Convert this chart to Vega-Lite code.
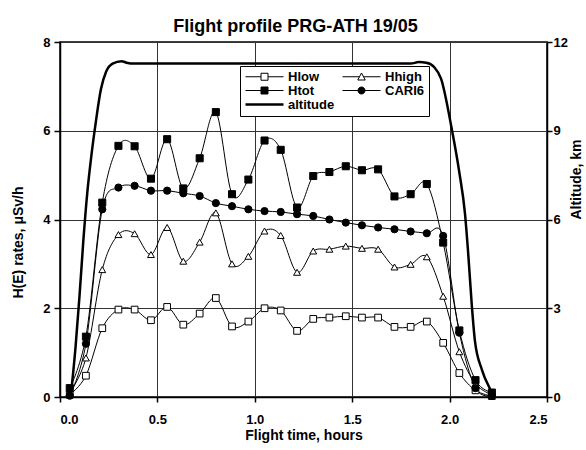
{
  "$schema": "https://vega.github.io/schema/vega-lite/v6.json",
  "width": 586,
  "height": 450,
  "autosize": {"type": "fit", "contains": "padding"},
  "padding": {"left": 11, "top": 18, "right": 2, "bottom": 8},
  "background": "white",
  "title": {
    "text": "Flight profile PRG-ATH 19/05",
    "fontSize": 18,
    "fontWeight": "bold",
    "font": "Liberation Sans",
    "color": "black",
    "offset": 0,
    "dx": -8
  },
  "datasets": {
    "rates": [
      {"series": "Hlow", "t": 0.05, "v": 0.05},
      {"series": "Hlow", "t": 0.133, "v": 0.48},
      {"series": "Hlow", "t": 0.217, "v": 1.55},
      {"series": "Hlow", "t": 0.3, "v": 1.97},
      {"series": "Hlow", "t": 0.383, "v": 1.97},
      {"series": "Hlow", "t": 0.467, "v": 1.73},
      {"series": "Hlow", "t": 0.55, "v": 2.03},
      {"series": "Hlow", "t": 0.633, "v": 1.63},
      {"series": "Hlow", "t": 0.717, "v": 1.88},
      {"series": "Hlow", "t": 0.8, "v": 2.23},
      {"series": "Hlow", "t": 0.883, "v": 1.59},
      {"series": "Hlow", "t": 0.967, "v": 1.7},
      {"series": "Hlow", "t": 1.05, "v": 2.0},
      {"series": "Hlow", "t": 1.133, "v": 1.95},
      {"series": "Hlow", "t": 1.217, "v": 1.49},
      {"series": "Hlow", "t": 1.3, "v": 1.76},
      {"series": "Hlow", "t": 1.383, "v": 1.79},
      {"series": "Hlow", "t": 1.467, "v": 1.82},
      {"series": "Hlow", "t": 1.55, "v": 1.79},
      {"series": "Hlow", "t": 1.633, "v": 1.79},
      {"series": "Hlow", "t": 1.717, "v": 1.58},
      {"series": "Hlow", "t": 1.8, "v": 1.58},
      {"series": "Hlow", "t": 1.883, "v": 1.7},
      {"series": "Hlow", "t": 1.967, "v": 1.22},
      {"series": "Hlow", "t": 2.05, "v": 0.54},
      {"series": "Hlow", "t": 2.133, "v": 0.15},
      {"series": "Hlow", "t": 2.217, "v": 0.02},
      {"series": "Hhigh", "t": 0.05, "v": 0.1},
      {"series": "Hhigh", "t": 0.133, "v": 0.88},
      {"series": "Hhigh", "t": 0.217, "v": 2.87},
      {"series": "Hhigh", "t": 0.3, "v": 3.66},
      {"series": "Hhigh", "t": 0.383, "v": 3.68},
      {"series": "Hhigh", "t": 0.467, "v": 3.21},
      {"series": "Hhigh", "t": 0.55, "v": 3.82},
      {"series": "Hhigh", "t": 0.633, "v": 3.06},
      {"series": "Hhigh", "t": 0.717, "v": 3.49},
      {"series": "Hhigh", "t": 0.8, "v": 4.15},
      {"series": "Hhigh", "t": 0.883, "v": 3.0},
      {"series": "Hhigh", "t": 0.967, "v": 3.17},
      {"series": "Hhigh", "t": 1.05, "v": 3.74},
      {"series": "Hhigh", "t": 1.133, "v": 3.64},
      {"series": "Hhigh", "t": 1.217, "v": 2.81},
      {"series": "Hhigh", "t": 1.3, "v": 3.29},
      {"series": "Hhigh", "t": 1.383, "v": 3.33},
      {"series": "Hhigh", "t": 1.467, "v": 3.4},
      {"series": "Hhigh", "t": 1.55, "v": 3.35},
      {"series": "Hhigh", "t": 1.633, "v": 3.33},
      {"series": "Hhigh", "t": 1.717, "v": 2.93},
      {"series": "Hhigh", "t": 1.8, "v": 2.99},
      {"series": "Hhigh", "t": 1.883, "v": 3.16},
      {"series": "Hhigh", "t": 1.967, "v": 2.27},
      {"series": "Hhigh", "t": 2.05, "v": 1.02},
      {"series": "Hhigh", "t": 2.133, "v": 0.3},
      {"series": "Hhigh", "t": 2.217, "v": 0.05},
      {"series": "Htot", "t": 0.05, "v": 0.2},
      {"series": "Htot", "t": 0.133, "v": 1.36},
      {"series": "Htot", "t": 0.217, "v": 4.38},
      {"series": "Htot", "t": 0.3, "v": 5.66},
      {"series": "Htot", "t": 0.383, "v": 5.65},
      {"series": "Htot", "t": 0.467, "v": 4.92},
      {"series": "Htot", "t": 0.55, "v": 5.81},
      {"series": "Htot", "t": 0.633, "v": 4.7},
      {"series": "Htot", "t": 0.717, "v": 5.38},
      {"series": "Htot", "t": 0.8, "v": 6.42},
      {"series": "Htot", "t": 0.883, "v": 4.57},
      {"series": "Htot", "t": 0.967, "v": 4.9},
      {"series": "Htot", "t": 1.05, "v": 5.78},
      {"series": "Htot", "t": 1.133, "v": 5.57},
      {"series": "Htot", "t": 1.217, "v": 4.27},
      {"series": "Htot", "t": 1.3, "v": 4.98},
      {"series": "Htot", "t": 1.383, "v": 5.07},
      {"series": "Htot", "t": 1.467, "v": 5.2},
      {"series": "Htot", "t": 1.55, "v": 5.11},
      {"series": "Htot", "t": 1.633, "v": 5.13},
      {"series": "Htot", "t": 1.717, "v": 4.52},
      {"series": "Htot", "t": 1.8, "v": 4.57},
      {"series": "Htot", "t": 1.883, "v": 4.8},
      {"series": "Htot", "t": 1.967, "v": 3.48},
      {"series": "Htot", "t": 2.05, "v": 1.5},
      {"series": "Htot", "t": 2.133, "v": 0.38},
      {"series": "Htot", "t": 2.217, "v": 0.1},
      {"series": "CARI6", "t": 0.05, "v": 0.03},
      {"series": "CARI6", "t": 0.133, "v": 1.2},
      {"series": "CARI6", "t": 0.217, "v": 4.23},
      {"series": "CARI6", "t": 0.3, "v": 4.72},
      {"series": "CARI6", "t": 0.383, "v": 4.76},
      {"series": "CARI6", "t": 0.467, "v": 4.65},
      {"series": "CARI6", "t": 0.55, "v": 4.65},
      {"series": "CARI6", "t": 0.633, "v": 4.59},
      {"series": "CARI6", "t": 0.717, "v": 4.53},
      {"series": "CARI6", "t": 0.8, "v": 4.37},
      {"series": "CARI6", "t": 0.883, "v": 4.3},
      {"series": "CARI6", "t": 0.967, "v": 4.23},
      {"series": "CARI6", "t": 1.05, "v": 4.19},
      {"series": "CARI6", "t": 1.133, "v": 4.17},
      {"series": "CARI6", "t": 1.217, "v": 4.12},
      {"series": "CARI6", "t": 1.3, "v": 4.08},
      {"series": "CARI6", "t": 1.383, "v": 4.0},
      {"series": "CARI6", "t": 1.467, "v": 3.93},
      {"series": "CARI6", "t": 1.55, "v": 3.87},
      {"series": "CARI6", "t": 1.633, "v": 3.82},
      {"series": "CARI6", "t": 1.717, "v": 3.78},
      {"series": "CARI6", "t": 1.8, "v": 3.73},
      {"series": "CARI6", "t": 1.883, "v": 3.69},
      {"series": "CARI6", "t": 1.967, "v": 3.63},
      {"series": "CARI6", "t": 2.05, "v": 1.45},
      {"series": "CARI6", "t": 2.133, "v": 0.2},
      {"series": "CARI6", "t": 2.217, "v": 0.03}
    ],
    "altitude": [
      {"series": "altitude", "t": 0.055, "km": 0},
      {"series": "altitude", "t": 0.08, "km": 1.7},
      {"series": "altitude", "t": 0.1, "km": 3.4},
      {"series": "altitude", "t": 0.12, "km": 5.3},
      {"series": "altitude", "t": 0.14, "km": 6.9},
      {"series": "altitude", "t": 0.16, "km": 8.1},
      {"series": "altitude", "t": 0.184, "km": 9.3},
      {"series": "altitude", "t": 0.21, "km": 10.4},
      {"series": "altitude", "t": 0.237, "km": 11.0},
      {"series": "altitude", "t": 0.27, "km": 11.27},
      {"series": "altitude", "t": 0.316, "km": 11.35},
      {"series": "altitude", "t": 0.342, "km": 11.3},
      {"series": "altitude", "t": 0.38, "km": 11.27},
      {"series": "altitude", "t": 1.0, "km": 11.27},
      {"series": "altitude", "t": 1.8, "km": 11.27},
      {"series": "altitude", "t": 1.842, "km": 11.32},
      {"series": "altitude", "t": 1.88, "km": 11.3},
      {"series": "altitude", "t": 1.921, "km": 11.15},
      {"series": "altitude", "t": 1.956, "km": 10.76},
      {"series": "altitude", "t": 2.008, "km": 9.17},
      {"series": "altitude", "t": 2.05, "km": 7.59},
      {"series": "altitude", "t": 2.079, "km": 6.2},
      {"series": "altitude", "t": 2.095, "km": 4.9},
      {"series": "altitude", "t": 2.114, "km": 3.1},
      {"series": "altitude", "t": 2.13, "km": 1.9},
      {"series": "altitude", "t": 2.166, "km": 0.92},
      {"series": "altitude", "t": 2.21, "km": 0.24},
      {"series": "altitude", "t": 2.227, "km": 0}
    ]
  },
  "encoding": {
    "x": {
      "field": "t",
      "type": "quantitative",
      "scale": {"domain": [0, 2.5], "nice": false},
      "axis": {
        "title": "Flight time, hours",
        "values": [0, 0.5, 1, 1.5, 2, 2.5],
        "format": ".1f",
        "grid": true,
        "labelPadding": 11,
        "titlePadding": 2
      }
    }
  },
  "layer": [
    {
      "data": {"name": "rates"},
      "encoding": {
        "y": {
          "field": "v",
          "type": "quantitative",
          "scale": {"domain": [0, 8], "nice": false},
          "axis": {
            "orient": "left",
            "title": "H(E) rates, μSv/h",
            "values": [0, 2, 4, 6, 8],
            "grid": true,
            "tickSize": 6,
            "labelPadding": 4,
            "titlePadding": 17,
            "titleAlign": "center",
            "titleY": 200
          }
        }
      },
      "layer": [
        {
          "mark": {"type": "line", "interpolate": "cardinal", "strokeWidth": 1},
          "encoding": {
            "color": {
              "field": "series",
              "type": "nominal",
              "scale": {
                "domain": ["Hlow", "Hhigh", "Htot", "CARI6", "altitude"],
                "range": ["black", "black", "black", "black", "black"]
              },
              "legend": {
                "title": null,
                "orient": "none",
                "direction": "horizontal",
                "legendX": 180,
                "legendY": 24,
                "columns": 2,
                "columnPadding": 5,
                "rowPadding": 0,
                "padding": 4,
                "strokeColor": "black",
                "fillColor": "white",
                "labelFont": "Liberation Sans",
                "labelFontSize": 13,
                "labelFontWeight": "bold",
                "labelColor": "black",
                "labelOffset": 31,
                "symbolSize": 100,
                "symbolStrokeWidth": 1,
                "encode": {
                  "symbols": {
                    "update": {
                      "shape": {"signal": "datum.value === 'Hlow' ? 'M-1,0H2.1M3.5,0H6.6M2.1,-0.7H3.5V0.7H2.1Z' : datum.value === 'Hhigh' ? 'M-1,0H2.4M3.2,0H6.6M2.8,-0.75L3.55,0.65H2.05Z' : datum.value === 'Htot' ? 'M-1,0H6.6M2.1,-0.7H3.5V0.7H2.1Z' : datum.value === 'CARI6' ? 'M-1,0H6.6M3.5,0A0.7,0.7 0 1,1 2.1,0A0.7,0.7 0 1,1 3.5,0Z' : 'M-1,0H6.6'"},
                      "fill": {"signal": "datum.value === 'Htot' || datum.value === 'CARI6' ? 'black' : 'white'"},
                      "stroke": {"value": "black"},
                      "strokeWidth": {"signal": "datum.value === 'altitude' ? 2.5 : 1"},
                      "opacity": {"value": 1},
                      "fillOpacity": {"value": 1},
                      "strokeOpacity": {"value": 1}
                    }
                  }
                }
              }
            }
          }
        },
        {
          "mark": {"type": "point", "filled": true, "stroke": "black", "strokeWidth": 1, "opacity": 1},
          "encoding": {
            "shape": {
              "field": "series",
              "type": "nominal",
              "scale": {
                "domain": ["Hlow", "Hhigh", "Htot", "CARI6"],
                "range": ["square", "triangle-up", "square", "circle"]
              },
              "legend": null
            },
            "size": {
              "field": "series",
              "type": "nominal",
              "scale": {
                "domain": ["Hlow", "Hhigh", "Htot", "CARI6"],
                "range": [45, 52, 200, 165]
              },
              "legend": null
            },
            "fill": {
              "field": "series",
              "type": "nominal",
              "scale": {
                "domain": ["Hlow", "Hhigh", "Htot", "CARI6"],
                "range": ["white", "white", "black", "black"]
              },
              "legend": null
            }
          }
        }
      ]
    },
    {
      "data": {"name": "altitude"},
      "mark": {"type": "line", "interpolate": "monotone", "strokeWidth": 2.5},
      "encoding": {
        "y": {
          "field": "km",
          "type": "quantitative",
          "scale": {"domain": [0, 12], "nice": false},
          "axis": {
            "orient": "right",
            "title": "Altitude, km",
            "values": [0, 3, 6, 9, 12],
            "grid": false,
            "tickSize": 5,
            "labelPadding": 1,
            "titleAngle": 270,
            "titleBaseline": "top",
            "titleAlign": "center",
            "titlePadding": 2,
            "titleY": 137
          }
        },
        "color": {"field": "series", "type": "nominal"}
      }
    }
  ],
  "resolve": {"scale": {"y": "independent"}},
  "config": {
    "font": "Liberation Sans",
    "view": {"stroke": "black", "strokeWidth": 1.5},
    "axis": {
      "labelFont": "Liberation Sans",
      "labelFontWeight": "bold",
      "labelFontSize": 13,
      "labelColor": "black",
      "titleFont": "Liberation Sans",
      "titleFontWeight": "bold",
      "titleFontSize": 14,
      "titleColor": "black",
      "domainColor": "black",
      "domainWidth": 1.5,
      "tickColor": "black",
      "tickWidth": 1.5,
      "tickSize": 5,
      "gridColor": "#333333",
      "gridWidth": 1,
      "gridOpacity": 1
    }
  }
}
